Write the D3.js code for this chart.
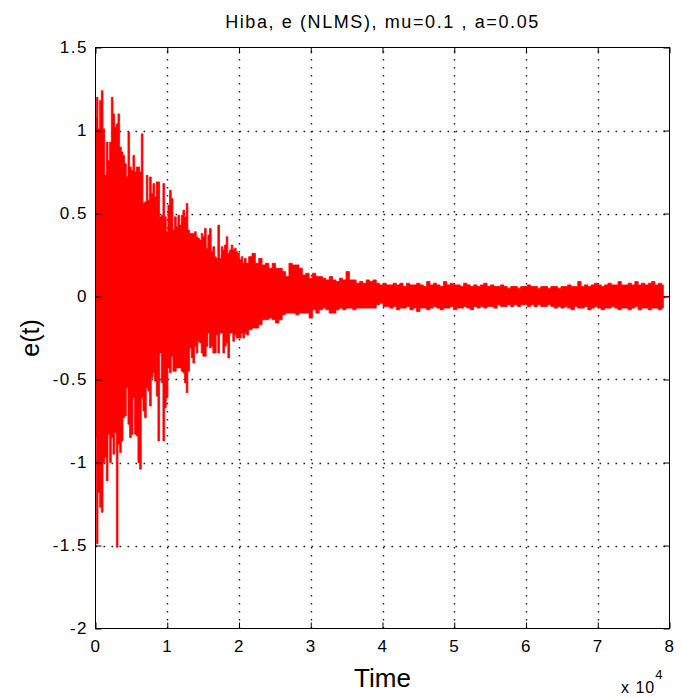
<!DOCTYPE html>
<html>
<head>
<meta charset="utf-8">
<script src="https://cdn.jsdelivr.net/npm/d3@7"></script>
<style>
  html, body { margin: 0; padding: 0; background: #fff; }
  svg text { font-family: "Liberation Sans", Arial, sans-serif; fill: #000; }
</style>
</head>
<body>
<div id="chart"></div>
<script>
// signal envelope (max / min of e(t) per small time slot)
// early part: one slot every 232 samples, starting at t = 0
const earlyStep = 232;
const earlyUpper = [
  1.08, 1.2, 1.01, 1.18, 1.24, 1.01, 0.73, 0.93, 0.82, 0.93,
  1.2, 1.1, 1.02, 1.04, 1.1, 0.9, 0.87, 0.85, 0.8, 0.72,
  0.99, 0.78, 0.76, 0.85, 0.75, 0.78, 0.78, 0.75, 0.98, 0.56,
  0.57, 0.73, 0.58, 0.72, 0.62, 0.68, 0.6, 0.69, 0.69, 0.48,
  0.49, 0.68, 0.48, 0.39,
  0.55, 0.64, 0.59, 0.4, 0.48, 0.42, 0.49, 0.43, 0.49, 0.52,
  0.48, 0.56, 0.4, 0.38, 0.38, 0.38, 0.39, 0.36, 0.35, 0.34,
  0.38, 0.36, 0.41, 0.29, 0.37, 0.41, 0.27, 0.3, 0.24, 0.23,
  0.43, 0.23, 0.3, 0.28, 0.31, 0.36, 0.26, 0.28, 0.31, 0.28,
  0.29, 0.27, 0.26, 0.22, 0.24, 0.2, 0.23, 0.2
];
const earlyLower = [
  -0.85, -1.49, -1.18, -1.27, -1.3, -1.0, -0.97, -1.11, -0.83, -1.0,
  -0.85, -0.95, -0.82, -1.51, -0.89, -0.94, -0.87, -0.73, -0.72, -0.55,
  -0.77, -0.85, -0.83, -0.61, -0.83, -0.84, -1.0, -1.04, -0.61, -0.69,
  -0.73, -0.55, -0.57, -0.66, -0.49, -0.46, -0.51, -0.6, -0.87, -0.34,
  -0.52, -0.87, -0.67, -0.61,
  -0.43, -0.46, -0.36, -0.45, -0.45, -0.43, -0.43, -0.43, -0.45, -0.46,
  -0.52, -0.58, -0.45, -0.31, -0.37, -0.4, -0.3, -0.34, -0.27, -0.28,
  -0.34, -0.36, -0.36, -0.3, -0.22, -0.31, -0.3, -0.34, -0.34, -0.23,
  -0.34, -0.22, -0.22, -0.34, -0.3, -0.28, -0.37, -0.22, -0.22, -0.27,
  -0.23, -0.25, -0.25, -0.25, -0.22, -0.25, -0.22, -0.23
];
// later part: one slot every 468 samples, following on from the early part
const lateStep = 468;
const lateUpper = [
  0.24, 0.26, 0.2, 0.23, 0.19, 0.2, 0.17, 0.2, 0.17, 0.17,
  0.15, 0.12, 0.2, 0.19, 0.19, 0.17, 0.13, 0.14, 0.11, 0.14,
  0.12, 0.12, 0.11, 0.1, 0.12, 0.1, 0.09, 0.11, 0.1, 0.15,
  0.1, 0.1, 0.08, 0.09, 0.08, 0.1, 0.09, 0.1, 0.08, 0.07,
  0.08, 0.07,
  0.07, 0.08, 0.07, 0.08, 0.06, 0.08, 0.07, 0.07, 0.08, 0.07,
  0.06, 0.09, 0.07, 0.08, 0.07, 0.06, 0.09, 0.07, 0.08, 0.07,
  0.07, 0.06, 0.08, 0.07, 0.06, 0.07, 0.06, 0.07, 0.08, 0.06,
  0.07, 0.06, 0.06, 0.07, 0.06, 0.05, 0.06, 0.06, 0.05, 0.06,
  0.06, 0.07, 0.06, 0.06, 0.05, 0.06, 0.06, 0.05, 0.06, 0.06,
  0.05, 0.06, 0.06, 0.07, 0.06, 0.06, 0.09, 0.06, 0.07, 0.06,
  0.07, 0.08, 0.07, 0.06, 0.07, 0.08, 0.07, 0.07, 0.09, 0.07,
  0.07, 0.08, 0.07, 0.09, 0.07, 0.08, 0.07, 0.08, 0.09, 0.07,
  0.08, 0.07
];
const lateLower = [
  -0.2, -0.19, -0.19, -0.17, -0.14, -0.14, -0.13, -0.14, -0.16, -0.14,
  -0.11, -0.1, -0.1, -0.1, -0.11, -0.1, -0.1, -0.1, -0.13, -0.08,
  -0.1, -0.08, -0.07, -0.08, -0.1, -0.1, -0.08, -0.07, -0.08, -0.07,
  -0.07, -0.08, -0.07, -0.07, -0.07, -0.07, -0.07, -0.07, -0.05, -0.04,
  -0.06, -0.06,
  -0.07, -0.06, -0.08, -0.07, -0.07, -0.06, -0.08, -0.07, -0.09, -0.07,
  -0.07, -0.08, -0.07, -0.06, -0.07, -0.08, -0.07, -0.07, -0.06, -0.08,
  -0.07, -0.07, -0.06, -0.07, -0.08, -0.06, -0.07, -0.06, -0.07, -0.06,
  -0.06, -0.07, -0.05, -0.06, -0.06, -0.05, -0.06, -0.05, -0.06, -0.05,
  -0.05, -0.06, -0.05, -0.06, -0.05, -0.06, -0.06, -0.05, -0.06, -0.07,
  -0.06, -0.07, -0.06, -0.07, -0.08, -0.06, -0.07, -0.07, -0.06, -0.08,
  -0.07, -0.06, -0.07, -0.08, -0.07, -0.07, -0.06, -0.07, -0.08, -0.07,
  -0.07, -0.08, -0.07, -0.06, -0.08, -0.07, -0.07, -0.08, -0.07, -0.07,
  -0.08, -0.07
];
// the error settles to exactly zero at the very end of the record
const zeroTimes = [79300, 80000];
const zeroValues = [0, 0];

const xTicks = [0, 10000, 20000, 30000, 40000, 50000, 60000, 70000, 80000];
const xTickLabels = ["0", "1", "2", "3", "4", "5", "6", "7", "8"];
const yTicks = [-2, -1.5, -1, -0.5, 0, 0.5, 1, 1.5];
const yTickLabels = ["-2", "-1.5", "-1", "-0.5", "0", "0.5", "1", "1.5"];

const titleText = "Hiba, e (NLMS), mu=0.1 , a=0.05";
const xLabel = "Time";
const yLabel = "e(t)";

(function () {
  // build the envelope table
  const env = [];
  earlyUpper.forEach((v, i) => env.push({ t: i * earlyStep, hi: v, lo: earlyLower[i] }));
  const lateStart = (earlyUpper.length - 1) * earlyStep;
  lateUpper.forEach((v, i) => env.push({ t: lateStart + (i + 1) * lateStep, hi: v, lo: lateLower[i] }));
  const zeroPart = zeroTimes.map((t, i) => ({ t: t, v: zeroValues[i] }));

  const W = 681, H = 698;
  const pL = 95.5, pR = 669.5, pT = 47.5, pB = 628.5;

  const svg = d3.select("#chart").append("svg")
    .attr("width", W)
    .attr("height", H);

  const x = d3.scaleLinear().domain([0, 80000]).range([pL, pR]);
  const y = d3.scaleLinear().domain([-2, 1.5]).range([pB, pT]);

  // dotted grid (sparse dots, like the ':' grid of the original)
  const grid = svg.append("g")
    .attr("stroke", "#1a1a1a")
    .attr("stroke-width", 1.4)
    .attr("stroke-dasharray", "1.6,6.4");
  grid.selectAll(".gx")
    .data(xTicks.slice(1, -1))
    .enter().append("line")
    .attr("x1", d => Math.round(x(d)) + 0.5).attr("x2", d => Math.round(x(d)) + 0.5)
    .attr("y1", pB).attr("y2", pT);
  grid.selectAll(".gy")
    .data(yTicks.slice(1, -1))
    .enter().append("line")
    .attr("y1", d => Math.round(y(d)) + 0.5).attr("y2", d => Math.round(y(d)) + 0.5)
    .attr("x1", pL).attr("x2", pR);

  // the error signal
  const area = d3.area()
    .x(d => x(d.t))
    .y0(d => y(d.lo))
    .y1(d => y(d.hi))
    .curve(d3.curveStep);

  svg.append("path")
    .datum(env)
    .attr("d", area)
    .attr("fill", "#ff0000")
    .attr("stroke", "#ff0000")
    .attr("stroke-width", 0.8);

  svg.append("path")
    .datum([{ t: env[env.length - 1].t, v: 0 }].concat(zeroPart))
    .attr("d", d3.line().x(d => x(d.t)).y(d => y(d.v)))
    .attr("fill", "none")
    .attr("stroke", "#ff0000")
    .attr("stroke-width", 1.2);

  // axes box, MATLAB style ticks on all four sides
  const tickLen = 6;
  const axisCol = "#000";
  svg.append("rect")
    .attr("x", pL).attr("y", pT)
    .attr("width", pR - pL).attr("height", pB - pT)
    .attr("fill", "none")
    .attr("stroke", axisCol)
    .attr("stroke-width", 1);

  const bottomAxis = d3.axisBottom(x).tickValues(xTicks)
    .tickFormat((d, i) => xTickLabels[i]).tickSizeInner(-tickLen).tickSizeOuter(0).tickPadding(11.5);
  const topAxis = d3.axisTop(x).tickValues(xTicks)
    .tickFormat("").tickSizeInner(-tickLen).tickSizeOuter(0);
  const leftAxis = d3.axisLeft(y).tickValues(yTicks)
    .tickFormat((d, i) => yTickLabels[i]).tickSizeInner(-tickLen).tickSizeOuter(0).tickPadding(7.5);
  const rightAxis = d3.axisRight(y).tickValues(yTicks)
    .tickFormat("").tickSizeInner(-tickLen).tickSizeOuter(0);

  function styleAxis(g) {
    g.select(".domain").remove();
    g.selectAll(".tick line").attr("stroke", axisCol);
    g.selectAll(".tick text")
      .attr("font-size", 17)
      .attr("letter-spacing", 1.5)
      .attr("fill", "#000");
  }

  svg.append("g").attr("transform", `translate(0,${pB})`).call(bottomAxis).call(styleAxis);
  svg.append("g").attr("transform", `translate(0,${pT})`).call(topAxis).call(styleAxis);
  svg.append("g").attr("transform", `translate(${pL},0)`).call(leftAxis).call(styleAxis);
  svg.append("g").attr("transform", `translate(${pR},0)`).call(rightAxis).call(styleAxis);

  // texts
  svg.append("text")
    .attr("x", (pL + pR) / 2)
    .attr("y", 28)
    .attr("text-anchor", "middle")
    .attr("font-size", 18)
    .attr("letter-spacing", 1.6)
    .text(titleText);

  svg.append("text")
    .attr("x", (pL + pR) / 2)
    .attr("y", 687)
    .attr("text-anchor", "middle")
    .attr("font-size", 26)
    .text(xLabel);

  svg.append("text")
    .attr("transform", `translate(39,${(pT + pB) / 2}) rotate(-90)`)
    .attr("text-anchor", "middle")
    .attr("font-size", 25)
    .text(yLabel);

  const mult = svg.append("text")
    .attr("x", 621)
    .attr("y", 693)
    .attr("font-size", 16)
    .attr("letter-spacing", 1);
  mult.append("tspan").text("x 10");
  mult.append("tspan").attr("dy", -14).attr("font-size", 13).text("4");
})();
</script>
</body>
</html>
